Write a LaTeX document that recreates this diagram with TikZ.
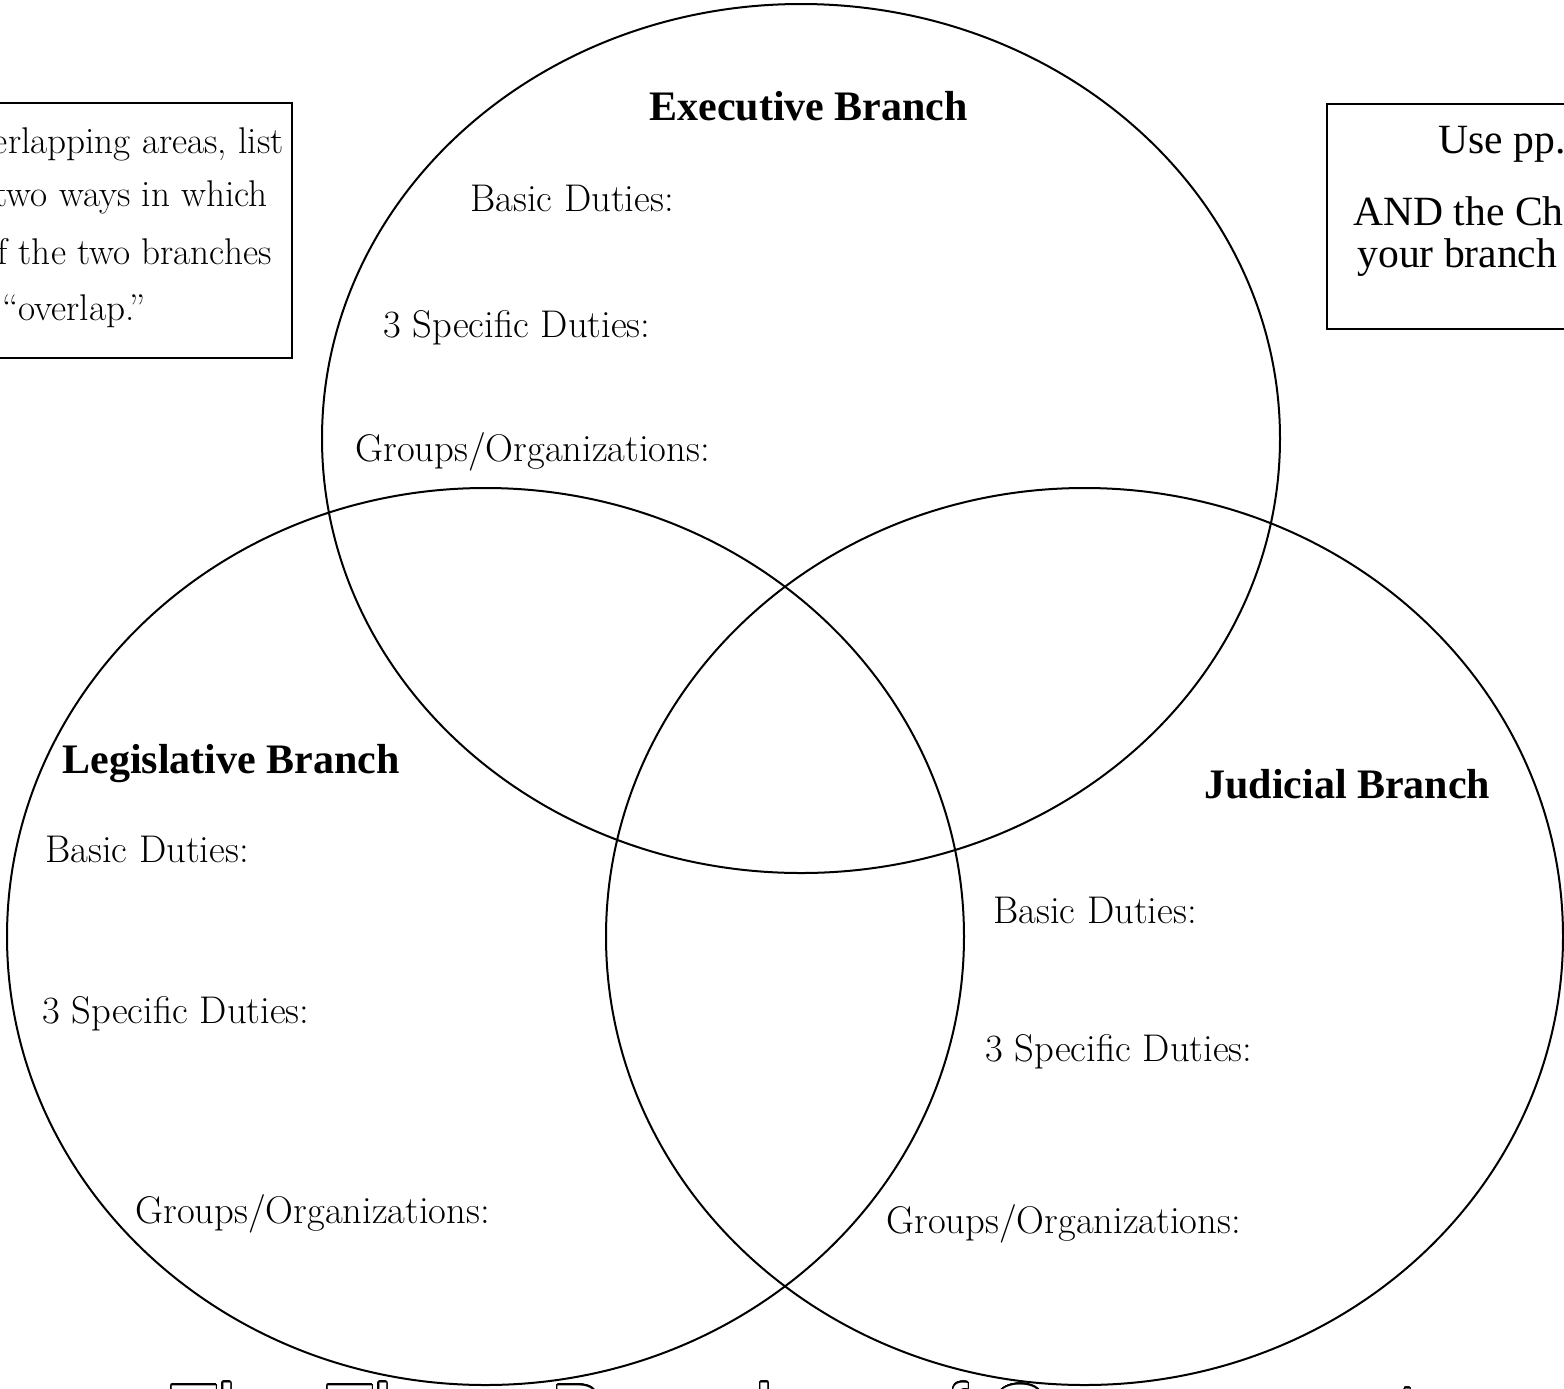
\documentclass[tikz,border=0pt]{standalone}
\usepackage{fontspec}
\usepackage{contour}
\usetikzlibrary{shapes.geometric}

\newfontfamily\timesfont{Liberation Serif}
\newfontfamily\outlinefont{Liberation Sans}
\contourlength{0.6pt}
\contournumber{32}

\begin{document}
\begin{tikzpicture}[x=0.5pt, y=-0.5pt,
  circ/.style = {ellipse, draw, line width=1pt, inner sep=0pt, outer sep=0pt},
  head/.style = {anchor=base west, inner sep=0pt, font=\timesfont\bfseries\fontsize{21}{25}\selectfont},
  duty/.style = {anchor=base west, inner sep=0pt, font=\fontsize{19.3}{23}\selectfont},
  notebox/.style = {draw, line width=0.9pt, inner sep=0pt},
  lnote/.style = {anchor=base east, inner sep=0pt, font=\fontsize{18.6}{22}\selectfont},
  rnote/.style = {anchor=base west, inner sep=0pt, font=\timesfont\fontsize{20.8}{24}\selectfont},
  ]
  \useasboundingbox (0,0) rectangle (1564,1388);
  \clip (0,0) rectangle (1564,1388);

  % the three branches
  \node[circ, minimum width=479pt, minimum height=434.5pt] (exec) at (801,438.5) {};
  \node[circ, minimum width=478.5pt, minimum height=448.5pt] (legis) at (485.5,936.5) {};
  \node[circ, minimum width=478.5pt, minimum height=448.5pt] (judic) at (1084.5,936.5) {};

  % executive
  \node[head] (exechead) at (649,120) {Executive Branch};
  \node[duty] (execbasic) at (470,211) {Basic Duties:};
  \node[duty] (execspec) at (383,337) {3 Specific Duties:};
  \node[duty] (execgroup) at (355,461) {Groups/Organizations:};

  % legislative
  \node[head] (legishead) at (62,773) {Legislative Branch};
  \node[duty] (legisbasic) at (45,862) {Basic Duties:};
  \node[duty] (legisspec) at (42,1023) {3 Specific Duties:};
  \node[duty] (legisgroup) at (135,1223) {Groups/Organizations:};

  % judicial
  \node[head] (judichead) at (1204,798) {Judicial Branch};
  \node[duty] (judicbasic) at (993,923) {Basic Duties:};
  \node[duty] (judicspec) at (985,1061) {3 Specific Duties:};
  \node[duty] (judicgroup) at (886,1233) {Groups/Organizations:};

  % note boxes
  \node[notebox, minimum width=221pt, minimum height=127.5pt] (leftbox) at (71,230.5) {};
  \node[lnote] (lnote1) at (284,153) {overlapping areas, list};
  \node[lnote] (lnote2) at (268,206) {two ways in which};
  \node[lnote] (lnote3) at (272,264) {of the two branches};
  \node[lnote] (lnote4) at (146,320) {“overlap.”};

  \node[notebox, minimum width=236.5pt, minimum height=112.5pt] (rightbox) at (1563.5,216.5) {};
  \node[rnote] (rnote1) at (1438,153) {Use pp.};
  \node[rnote] (rnote2) at (1353,225) {AND the Ch};
  \node[rnote] (rnote3) at (1357,267) {your branch};

  % title, cut off by the page
  \node[anchor=base west, inner sep=0pt, font=\outlinefont\fontsize{39}{44}\selectfont] (title) at (170,1439)
    {\contour{black}{\textcolor{white}{The Three Branches of Government}}};
\end{tikzpicture}
\end{document}
